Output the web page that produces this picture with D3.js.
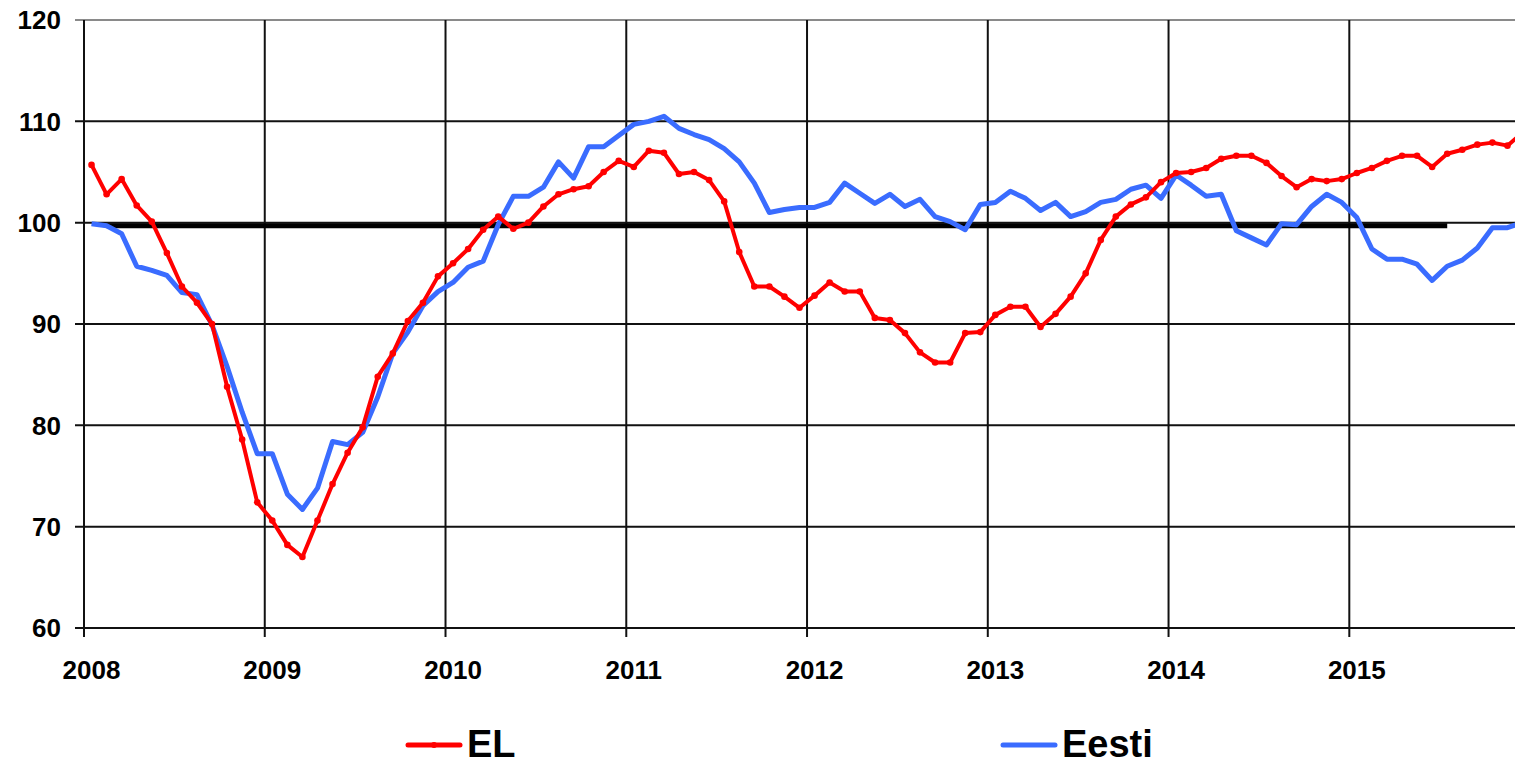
<!DOCTYPE html>
<html>
<head>
<meta charset="utf-8">
<script src="https://cdn.jsdelivr.net/npm/d3@7"></script>
<style>
    html, body { margin: 0; padding: 0; background: #fff; }
    svg { display: block; font-family: "Liberation Sans", Arial, sans-serif; }
</style>
</head>
<body>
<svg width="1515" height="766"></svg>
<script>
// Year labels on the category axis (one every 12 months)
const years = ["2008", "2009", "2010", "2011", "2012", "2013", "2014", "2015"];
const yTicks = [60, 70, 80, 90, 100, 110, 120];

// Monthly values, Jan 2008 ...
const elValues = [
    105.7, 102.8, 104.3, 101.7, 100.1, 97.0, 93.7, 92.1, 90.0, 83.8, 78.6, 72.4,
    70.6, 68.2, 67.0, 70.6, 74.2, 77.3, 79.8, 84.8, 87.1, 90.3, 92.1, 94.7,
    96.0, 97.4, 99.3, 100.6, 99.4, 100.0, 101.6, 102.8, 103.3, 103.6, 105.0, 106.1,
    105.5, 107.1, 106.9, 104.8, 105.0, 104.2, 102.1, 97.1, 93.7, 93.7, 92.7, 91.6,
    92.8, 94.1, 93.2, 93.2, 90.6, 90.4, 89.1, 87.2, 86.2, 86.2, 89.1, 89.2,
    90.9, 91.7, 91.7, 89.7, 91.0, 92.7, 95.0, 98.3, 100.6, 101.8, 102.5, 104.0,
    104.9, 105.0, 105.4, 106.3, 106.6, 106.6, 105.9, 104.6, 103.5, 104.3, 104.1, 104.3,
    104.9, 105.4, 106.1, 106.6, 106.6, 105.5, 106.8, 107.2, 107.7, 107.9, 107.6, 108.9
];
const eestiValues = [
    99.9, 99.7, 98.9, 95.7, 95.3, 94.8, 93.1, 92.9, 89.9, 85.8, 81.3, 77.2,
    77.2, 73.2, 71.7, 73.8, 78.4, 78.1, 79.3, 82.8, 87.1, 89.2, 91.8, 93.2,
    94.1, 95.6, 96.2, 99.8, 102.6, 102.6, 103.5, 106.0, 104.4, 107.5, 107.5, 108.6,
    109.7, 110.0, 110.5, 109.3, 108.7, 108.2, 107.3, 106.0, 103.9, 101.0, 101.3, 101.5,
    101.5, 102.0, 103.9, 102.9, 101.9, 102.8, 101.6, 102.3, 100.6, 100.1, 99.3, 101.8,
    102.0, 103.1, 102.4, 101.2, 102.0, 100.6, 101.1, 102.0, 102.3, 103.3, 103.7, 102.4,
    104.7, 103.7, 102.6, 102.8, 99.2, 98.5, 97.8, 99.9, 99.8, 101.6, 102.8, 102.0,
    100.5, 97.4, 96.4, 96.4, 95.9, 94.3, 95.7, 96.3, 97.5, 99.5, 99.5, 100.0
];
// Flat reference level (month index, value)
const refLine = [[1, 99.7], [90, 99.7]];

const seriesNames = ["EL", "Eesti"];
const seriesColors = ["#ff0000", "#3a6cff"];

const margin = { top: 20, left: 84, bottom: 138, right: 0 };
const svg = d3.select("svg");
const W = +svg.attr("width"), H = +svg.attr("height");
const plotBottom = H - margin.bottom;

// one unit per month; a month sits in the middle of its slot
const x = d3.scaleLinear().domain([0, 95]).range([margin.left, W]);
const y = d3.scaleLinear().domain([60, 120]).range([plotBottom, margin.top]);
const mx = i => x(i + 0.5);

svg.append("defs").append("clipPath").attr("id", "plot")
    .append("rect")
    .attr("x", margin.left).attr("y", 0)
    .attr("width", W - margin.left).attr("height", plotBottom + 3);

// horizontal grid
svg.append("g")
    .selectAll("line")
    .data(yTicks)
    .enter()
    .append("line")
    .attr("x1", margin.left - 9).attr("x2", W)
    .attr("y1", d => y(d)).attr("y2", d => y(d))
    .attr("stroke", d => d === 120 ? "#8a8a8a" : "#111")
    .attr("stroke-width", 2);

// vertical grid at each year start
svg.append("g")
    .selectAll("line")
    .data(years)
    .enter()
    .append("line")
    .attr("x1", (d, i) => x(i * 12)).attr("x2", (d, i) => x(i * 12))
    .attr("y1", margin.top).attr("y2", plotBottom + 9)
    .attr("stroke", "#111")
    .attr("stroke-width", 2);

// y labels
svg.append("g")
    .selectAll("text")
    .data(yTicks)
    .enter()
    .append("text")
    .attr("x", 61)
    .attr("y", d => y(d))
    .attr("dy", "0.36em")
    .attr("text-anchor", "end")
    .style("font-size", "26px")
    .style("font-weight", "bold")
    .text(d => d);

// x labels, centred on the January slot
svg.append("g")
    .selectAll("text")
    .data(years)
    .enter()
    .append("text")
    .attr("x", (d, i) => mx(i * 12))
    .attr("y", 679)
    .attr("text-anchor", "middle")
    .style("font-size", "26px")
    .style("font-weight", "bold")
    .text(d => d);

const plot = svg.append("g").attr("clip-path", "url(#plot)");

// reference line at ~100
plot.append("path")
    .attr("d", d3.line().x(d => mx(d[0])).y(d => y(d[1]))(refLine))
    .attr("stroke", "#000")
    .attr("stroke-width", 5)
    .attr("fill", "none");

const line = d3.line()
    .x((d, i) => mx(i))
    .y(d => y(d));

// Eesti
plot.append("path")
    .attr("d", line(eestiValues))
    .attr("stroke", seriesColors[1])
    .attr("stroke-width", 5)
    .attr("stroke-linejoin", "round")
    .attr("fill", "none");

// EL with small markers
plot.append("path")
    .attr("d", line(elValues))
    .attr("stroke", seriesColors[0])
    .attr("stroke-width", 4)
    .attr("stroke-linejoin", "round")
    .attr("fill", "none");

plot.append("g")
    .selectAll("circle")
    .data(elValues)
    .enter()
    .append("circle")
    .attr("cx", (d, i) => mx(i))
    .attr("cy", d => y(d))
    .attr("r", 3.3)
    .attr("fill", seriesColors[0]);

// legend
const legendX = [408, 1003];
const legend = svg.append("g")
    .selectAll("g")
    .data(seriesNames)
    .enter()
    .append("g")
    .attr("transform", (d, i) => "translate(" + legendX[i] + ",745)");

legend.append("line")
    .attr("x1", 0).attr("x2", 52)
    .attr("stroke", (d, i) => seriesColors[i])
    .attr("stroke-width", 5)
    .attr("stroke-linecap", "round");

legend.filter((d, i) => i === 0)
    .append("circle")
    .attr("cx", 26).attr("r", 3)
    .attr("fill", seriesColors[0]);

legend.append("text")
    .attr("x", 59)
    .attr("y", 12)
    .style("font-size", "38px")
    .style("font-weight", "bold")
    .text(d => d);
</script>
</body>
</html>
